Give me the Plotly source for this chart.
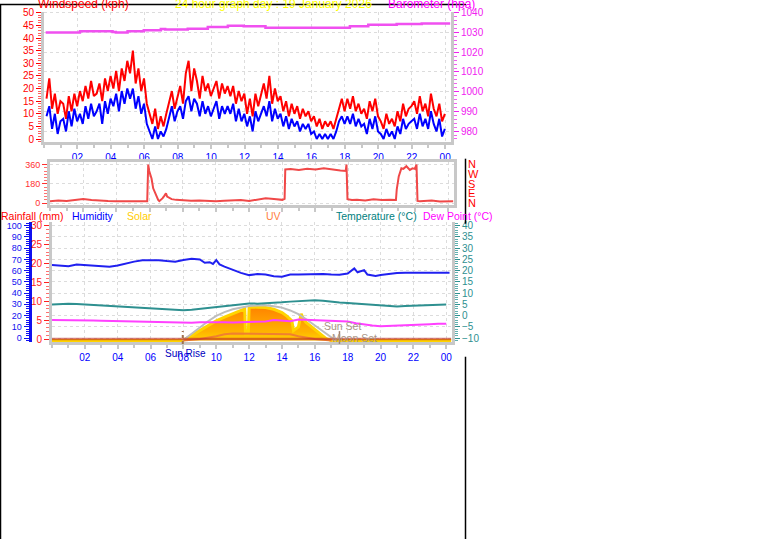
import plotly.graph_objects as go

W, H = 761, 543


def px(x):
    return x / W


def py(y):
    return 1 - y / H


FONT = "Liberation Sans"

# ---------------- data ----------------
hour_ticks = [2, 4, 6, 8, 10, 12, 14, 16, 18, 20, 22, 24]
hour_labels = ["02", "04", "06", "08", "10", "12", "14", "16", "18", "20", "22", "00"]

# wind (10-minute samples)
gust_kph = [
    16, 24, 12, 18, 10, 15, 14, 8, 17, 11, 18, 13, 19, 15, 21, 16, 23, 17, 18, 22, 15, 24, 19, 25,
    20, 27, 19, 28, 23, 31, 26, 35, 22, 28, 19, 24, 14, 10, 6, 12, 4, 9, 5, 10, 14, 19, 12, 17,
    21, 14, 26, 31, 19, 28, 23, 16, 25, 19, 22, 17, 20, 23, 16, 22, 18, 21, 17, 21, 14, 19, 15, 18,
    10, 16, 9, 18, 13, 17, 22, 16, 25, 14, 20, 15, 17, 11, 15, 9, 14, 10, 13, 8, 12, 9, 11, 7,
    9, 5, 8, 4, 7, 5, 7, 4, 8, 13, 16, 11, 16, 12, 17, 11, 14, 10, 12, 8, 15, 11, 16, 9,
    7, 4, 10, 6, 8, 5, 11, 7, 14, 9, 12, 13, 15, 10, 17, 11, 14, 9, 18, 12, 9, 14, 7, 10,
]
avg_kph = [
    9, 13, 4, 10, 2, 7, 8, 3, 11, 5, 12, 7, 10, 6, 13, 8, 14, 9, 11, 14, 6, 15, 10, 16,
    13, 18, 11, 19, 14, 20, 16, 20, 12, 17, 10, 14, 6, 3, 0, 5, 0, 3, 1, 4, 9, 13, 7, 11,
    13, 8, 15, 17, 11, 16, 14, 9, 15, 10, 13, 9, 12, 15, 8, 13, 10, 13, 10, 14, 7, 12, 7, 10,
    5, 9, 3, 11, 7, 10, 13, 9, 15, 7, 12, 8, 10, 5, 9, 4, 8, 5, 7, 3, 6, 4, 6, 2,
    3, 0, 2, 0, 2, 0, 2, 0, 3, 7, 9, 6, 9, 6, 10, 5, 8, 5, 6, 2, 8, 4, 9, 3,
    2, 0, 4, 1, 3, 0, 5, 2, 8, 4, 6, 7, 8, 4, 10, 5, 8, 4, 11, 6, 3, 8, 1, 4,
]
wind_time_h = [0.15 + i / 6 for i in range(len(gust_kph))]

baro_time_h = [0.1, 2.15, 4.1, 4.3, 5.0, 5.97, 6.99, 7.25, 8.6, 9.8, 11.0, 11.95,
               13.25, 18.3, 19.4, 21.1, 22.6, 24.3]
baro_hpa = [1030.0, 1030.65, 1030.3, 1030.0, 1030.65, 1031.15, 1031.85, 1031.5, 1032.0,
            1032.85, 1033.5, 1033.15, 1032.5, 1033.15, 1034.0, 1034.35, 1034.65, 1034.65]

# wind direction
dir_time_h = [
    0.0, 0.5, 1.0, 1.5, 2.0, 2.5, 3.0, 3.5, 4.0, 4.5,
    5.0, 5.5, 5.8, 5.86, 5.92, 5.98, 6.05, 6.12, 6.22, 6.32,
    6.43, 6.52, 6.59, 6.7, 6.79, 6.9, 6.99, 7.06, 7.13, 7.33,
    7.6, 8.0, 8.5, 9.0, 9.5, 10.0, 10.5, 11.0, 11.5, 12.0,
    12.5, 13.0, 13.5, 14.0, 14.14, 14.18, 14.5, 15.0, 15.5, 16.0,
    16.5, 17.0, 17.5, 17.82, 17.87, 17.93, 18.2, 18.5, 19.0, 19.5,
    20.0, 20.5, 20.85, 20.9, 21.02, 21.18, 21.3, 21.48, 21.6, 21.69,
    21.85, 21.99, 22.09, 22.15, 22.3, 22.7, 23.0, 23.5, 24.0, 24.3,
]
dir_deg = [
    18, 25, 20, 30, 37, 28, 22, 20, 18, 20,
    22, 18, 20, 18, 360, 300, 268, 230, 138, 100,
    65, 30, 18, 30, 46, 70, 92, 60, 55, 37,
    30, 25, 22, 25, 20, 18, 22, 25, 28, 20,
    30, 45, 38, 30, 40, 314, 318, 310, 320, 315,
    325, 312, 305, 300, 360, 37, 28, 30, 25, 35,
    28, 30, 28, 129, 249, 326, 320, 345, 330, 310,
    325, 320, 360, 20, 18, 20, 25, 15, 20, 18,
]
compass_vals = [0, 90, 180, 270, 360]
compass_text = ["N", "E", "S", "W", "N"]

# humidity
hum_time_h = [0, 0.5, 1, 1.5, 2, 2.5, 3, 3.5, 4, 4.5, 5, 5.5, 6, 6.5, 7, 7.5, 8, 8.5, 9,
              9.3, 9.6, 9.8, 10.0, 10.2, 10.5, 11, 11.5, 12, 12.5, 13, 13.5, 14, 14.5, 15,
              15.5, 16, 16.5, 17, 17.5, 18, 18.4, 18.6, 19.0, 19.2, 19.7, 20, 20.5, 21,
              21.5, 22, 22.5, 23, 23.5, 24.2]
humidity = [65, 64.5, 64, 65.5, 65, 64, 63.5, 63.5, 64.5, 66.5, 68, 69.3, 69.5, 69.2, 68.5,
            68, 69.5, 70.5, 70, 67, 67.5, 66, 69.3, 65.5, 63.5, 60.5, 58, 56, 57, 56.5, 55,
            54.5, 56.5, 56.5, 56.8, 56.7, 57, 56.5, 56.3, 57.5, 62, 58.5, 60.5, 56.5, 55.3,
            56, 57.2, 57.8, 58, 58.2, 58.2, 58.2, 58.2, 58.2]

# temperature & dew point (half-hourly)
temp_time_h = [i * 0.5 for i in range(49)]
temperature = [4.9, 5.2, 5.3, 5.1, 4.9, 4.8, 4.7, 4.5, 4.3, 4.0, 3.8, 3.5, 3.3, 3.1, 3.0,
               2.7, 2.4, 2.6, 3.0, 3.5, 3.9, 4.4, 4.9, 5.2, 5.4, 5.3, 5.4, 5.7, 5.9, 6.2,
               6.4, 6.6, 6.8, 6.6, 6.1, 5.8, 5.6, 5.3, 5.1, 4.9, 4.7, 4.4, 4.0, 4.2, 4.4,
               4.5, 4.6, 4.8, 4.9]
dewpoint = [-2.0, -2.0, -1.9, -2.0, -2.1, -2.2, -2.3, -2.4, -2.4, -2.4, -2.5, -2.6, -2.7,
            -3.0, -3.1, -3.0, -3.4, -3.2, -3.0, -2.9, -2.8, -3.0, -3.1, -2.9, -2.8, -2.7,
            -2.6, -2.0, -2.3, -2.5, -1.8, -1.9, -2.2, -2.4, -2.4, -2.5, -2.6, -3.4, -4.0,
            -4.4, -4.8, -4.7, -4.6, -4.4, -4.2, -4.0, -3.9, -3.7, -3.6]

# solar radiation (W/m2) and theoretical maximum
solar_time_h = [0, 7.96, 8.5, 9, 9.5, 10, 10.5, 11, 11.5, 11.73, 11.78, 11.95, 12.0, 12.21,
                12.5, 13, 13.5, 14, 14.3, 14.6, 14.7, 15.0, 15.17, 15.3, 15.47, 15.8, 16.08,
                16.4, 16.69, 17.0, 24.3]
solar_wm2 = [0, 0, 45, 87, 130, 174, 205, 235, 262, 278, 60, 60, 290, 296, 293, 290, 275,
             246, 215, 174, 87, 120, 235, 190, 160, 120, 87, 50, 17, 0, 0]
solar_max_time_h = [7.96, 8.5, 9, 9.5, 10, 10.5, 11, 11.5, 12, 12.5, 13, 13.5, 14, 14.5, 15,
                    15.5, 16, 16.5, 17, 17.25]
solar_max_wm2 = [0, 60, 116, 170, 217, 250, 275, 292, 304, 309, 310, 302, 290, 265, 232,
                 185, 135, 80, 28, 0]

uv_time_h = [8, 9, 10, 10.5, 11, 12, 13, 14, 14.5, 15, 16, 17]
uv_index = [0, 0.2, 0.6, 0.9, 1.0, 1.0, 1.0, 1.0, 0.9, 0.6, 0.2, 0]

rain_time_h = [0, 24.3]
rain_mm = [0, 0]

sunrise_h = 7.96
moonset_h = 17.5

# ---------------- figure ----------------
fig = go.Figure()

# panel 1
fig.add_trace(go.Scatter(x=wind_time_h, y=gust_kph, mode="lines", line=dict(color="#FF0000", width=2),
                         xaxis="x", yaxis="y", name="Gust"))
fig.add_trace(go.Scatter(x=wind_time_h, y=avg_kph, mode="lines", line=dict(color="#0000FF", width=2),
                         xaxis="x", yaxis="y", name="Average"))
fig.add_trace(go.Scatter(x=baro_time_h, y=baro_hpa, mode="lines", line=dict(color="#F050F0", width=2.5, shape="hv"),
                         xaxis="x", yaxis="y2", name="Barometer"))

# panel 2
fig.add_trace(go.Scatter(x=dir_time_h, y=dir_deg, mode="lines", line=dict(color="#F04848", width=2),
                         xaxis="x2", yaxis="y3", name="Direction"))
fig.add_trace(go.Scatter(x=dir_time_h, y=dir_deg, mode="lines", line=dict(color="rgba(0,0,0,0)", width=0),
                         hoverinfo="skip", xaxis="x2", yaxis="y4", name="compass"))

# panel 3
fig.add_trace(go.Scatter(x=solar_time_h, y=solar_wm2, mode="lines", line=dict(color="#FFD400", width=3),
                         fill="tozeroy",
                         fillgradient=dict(type="vertical",
                                           colorscale=[[0, "#FFD800"], [0.3, "#FFB400"], [1, "#FF8400"]],
                                           start=0, stop=300),
                         xaxis="x3", yaxis="y5", name="Solar"))
fig.add_trace(go.Scatter(x=solar_max_time_h, y=solar_max_wm2, mode="lines", line=dict(color="#BDBDBD", width=2),
                         xaxis="x3", yaxis="y5", name="Solar max"))
fig.add_trace(go.Scatter(x=uv_time_h, y=uv_index, mode="lines", line=dict(color="#F08030", width=2),
                         xaxis="x3", yaxis="y6", name="UV"))
fig.add_trace(go.Scatter(x=rain_time_h, y=rain_mm, mode="lines", line=dict(color="rgba(190,40,30,0.6)", width=2.5),
                         xaxis="x3", yaxis="y7", name="Rainfall"))
fig.add_trace(go.Scatter(x=hum_time_h, y=humidity, mode="lines", line=dict(color="#2020F0", width=2),
                         xaxis="x3", yaxis="y8", name="Humidity"))
fig.add_trace(go.Scatter(x=temp_time_h, y=temperature, mode="lines", line=dict(color="#2E9090", width=2),
                         xaxis="x3", yaxis="y9", name="Temperature"))
fig.add_trace(go.Scatter(x=temp_time_h, y=dewpoint, mode="lines", line=dict(color="#FF40FF", width=2),
                         xaxis="x3", yaxis="y9", name="Dew Point"))

GRAY = "#C8C8C8"
GRID = "#DCDCDC"
tickfont_x = dict(family=FONT, size=10, color="#0000FF")


def xax(domain, anchor, labels=True):
    return dict(domain=domain, anchor=anchor, range=[0, 24.35], tickmode="array",
                tickvals=hour_ticks, ticktext=hour_labels, showticklabels=labels,
                tickfont=tickfont_x, ticks="outside", ticklen=4, tickcolor=GRAY, tickwidth=2,
                minor=dict(tickvals=list(range(0, 25)), ticks="outside", ticklen=3, tickcolor=GRAY, showgrid=False),
                showline=True, linecolor=GRAY, linewidth=3, showgrid=True, gridcolor=GRID,
                griddash="dot", zeroline=False, fixedrange=True)


def yax(color, **kw):
    d = dict(tickfont=dict(family=FONT, size=10, color=color), ticks="outside", ticklen=5,
             tickcolor=color, tickwidth=1, showline=True, linecolor=GRAY, linewidth=3,
             showgrid=False, zeroline=False, fixedrange=True)
    d.update(kw)
    return d


fig.update_layout(
    width=W, height=H, margin=dict(l=0, r=0, t=0, b=0), autosize=False,
    paper_bgcolor="white", plot_bgcolor="white", showlegend=False,
    font=dict(family=FONT, size=10),
    xaxis=xax([px(44), px(451)], "y"),
    yaxis=yax("#FF0000", domain=[py(139.6), py(7.7)], anchor="x", range=[-1, 50.5],
              tickvals=list(range(0, 51, 5)),
              minor=dict(dtick=1, ticks="outside", ticklen=3, tickcolor="#FF6060")),
    yaxis2=yax("#F020F0", overlaying="y", side="right", anchor="x", range=[974.7, 1040.65],
               tickvals=list(range(980, 1041, 10)), showgrid=True, gridcolor=GRID, griddash="dot",
               minor=dict(dtick=2, ticks="outside", ticklen=3, tickcolor="#F060F0")),
    xaxis2=xax([px(50), px(454)], "y3", labels=False) | dict(mirror=True),
    yaxis3=yax("#FF3030", domain=[py(204), py(160.5)], anchor="x2", range=[-18, 383],
               tickvals=[0, 180, 360], mirror=True, showgrid=True, gridcolor=GRID, griddash="dot",
               tickfont=dict(family=FONT, size=9, color="#FF3030"),
               minor=dict(dtick=30, ticks="outside", ticklen=3, tickcolor="#FF7070")),
    yaxis4=dict(overlaying="y3", side="right", anchor="x2", range=[-18, 383],
                tickmode="array", tickvals=compass_vals, ticktext=compass_text, showline=False,
                ticks="", ticklabelstandoff=13, showgrid=False, zeroline=False, fixedrange=True,
                tickfont=dict(family=FONT, size=11, color="#FF0000")),
    xaxis3=xax([px(52), px(452)], "y5"),
    yaxis5=dict(domain=[py(343), py(221.7)], anchor="x3", range=[-13, 1041.7], visible=False,
                fixedrange=True),
    yaxis6=dict(overlaying="y5", anchor="x3", range=[-0.214, 17.11], visible=False, fixedrange=True),
    yaxis7=yax("#FF2020", overlaying="y5", anchor="x3", side="left", range=[-0.78, 30.86],
               tickvals=list(range(0, 31, 5)),
               minor=dict(dtick=1, ticks="outside", ticklen=3, tickcolor="#FF7070")),
    yaxis8=yax("#1010F0", overlaying="y5", anchor="free", position=px(29.5), side="left",
               range=[-3.5, 102.9], tickvals=list(range(0, 101, 10)), linecolor="#1010F0",
               tickfont=dict(family=FONT, size=9, color="#1010F0"),
               minor=dict(dtick=2, ticks="outside", ticklen=3, tickcolor="#1010F0")),
    yaxis9=yax("#2E9090", overlaying="y5", anchor="x3", side="right", range=[-11.75, 41.45],
               tickvals=list(range(-10, 41, 5)), showgrid=True, gridcolor=GRID, griddash="dot",
               minor=dict(dtick=1, ticks="outside", ticklen=3, tickcolor="#5FB0B0")),
)


def label(text, x, y, color, size=11, xanchor="left", yanchor="middle"):
    fig.add_annotation(text=text, x=px(x), y=py(y), xref="paper", yref="paper", showarrow=False,
                       xanchor=xanchor, yanchor=yanchor, font=dict(family=FONT, size=size, color=color))


label("Windspeed (kph)", 36, 9, "#FF0000", size=12, yanchor="bottom")
label("24 hour graph day : 19 January 2026", 273, 9, "#FFFF00", size=12, xanchor="center", yanchor="bottom")
label("Barometer (hpa)", 477, 9, "#FF00FF", size=12, xanchor="right", yanchor="bottom")
label("Rainfall (mm)", -1, 215, "#FF0000", size=10.5)
label("Humidity", 70, 215, "#0000FF", size=10.5)
label("Solar", 125, 215, "#FFCC00", size=10.5)
label("UV", 264, 215, "#FF8040", size=10.5)
label("Temperature (°C)", 334, 215, "#008080", size=10.5)
label("Dew Point (°C)", 421, 215, "#FF00FF", size=10.5)
label("Sun Set", 322, 327, "#A89484", size=10.5)
label("Moon Set", 330, 339, "#A89484", size=10.5)
label("Sun Rise", 163, 355, "#0000C0", size=10)

# sunrise / moonset markers
fig.add_shape(type="line", xref="x3", yref="paper", x0=sunrise_h, x1=sunrise_h, y0=py(345), y1=py(332),
              line=dict(color="#A07050", width=2, dash="dot"))
fig.add_shape(type="line", xref="x3", yref="paper", x0=moonset_h, x1=moonset_h, y0=py(345), y1=py(332),
              line=dict(color="#A08070", width=1.5))

# black frame lines
for x0, y0, x1, y1 in [(0.5, 0, 0.5, 543), (0, 0.5, 466, 0.5), (465.5, 157, 465.5, 223), (465.5, 358, 465.5, 543)]:
    fig.add_shape(type="line", xref="paper", yref="paper", x0=px(x0), x1=px(x1), y0=py(y0), y1=py(y1),
                  line=dict(color="black", width=1.5))

fig.write_html(
    "out.html",
    config={"displayModeBar": False},
    post_script="document.body.style.margin='0';document.body.style.overflow='hidden';",
)
